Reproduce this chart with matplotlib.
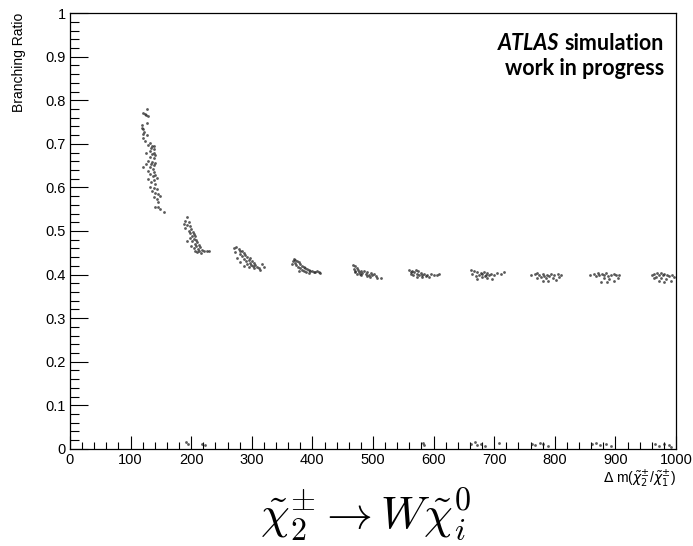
import matplotlib
matplotlib.use("Agg")
import matplotlib.pyplot as plt
from matplotlib.ticker import MultipleLocator, FuncFormatter

plt.rcParams['font.family'] = 'sans-serif'
plt.rcParams['font.sans-serif'] = ['Liberation Sans', 'DejaVu Sans']
plt.rcParams['mathtext.fontset'] = 'cm'

# Delta m (GeV) and branching ratio, one cluster per mass point
dm_120 = [127.8, 121.2, 124.0, 125.6, 128.4, 126.8, 119.6, 118.5, 121.2, 122.3, 120.1, 127.8,
          121.2, 124.0, 132.3, 129.5, 135.0, 137.8, 133.4, 137.8, 131.2, 137.8, 125.6, 135.0,
          140.5, 132.3, 137.8, 129.5, 135.0, 140.5, 125.6, 133.4, 137.8, 121.2, 131.2, 136.7,
          129.5, 138.9, 132.3, 140.5, 136.7, 129.5, 138.9, 143.3, 133.4, 140.5, 131.2, 137.8,
          143.3, 135.0, 140.5, 146.0, 147.7, 138.9, 143.3, 146.0, 140.5, 144.4, 148.8, 154.3]
br_120 = [0.780, 0.771, 0.768, 0.765, 0.763, 0.748, 0.744, 0.736, 0.734, 0.728, 0.722, 0.720,
          0.713, 0.707, 0.702, 0.697, 0.696, 0.694, 0.690, 0.688, 0.684, 0.680, 0.679, 0.677,
          0.674, 0.669, 0.667, 0.661, 0.659, 0.657, 0.654, 0.654, 0.651, 0.646, 0.646, 0.642,
          0.638, 0.636, 0.631, 0.628, 0.625, 0.619, 0.618, 0.621, 0.612, 0.608, 0.602, 0.598,
          0.596, 0.592, 0.587, 0.585, 0.581, 0.577, 0.573, 0.566, 0.556, 0.554, 0.550, 0.544]

dm_200 = [192.9, 189.0, 195.6, 187.4, 192.9, 198.4, 190.1, 200.0, 195.6, 202.3, 198.4, 203.9,
          201.2, 206.7, 198.4, 203.9, 207.8, 192.9, 201.2, 209.4, 205.6, 212.2, 200.0, 207.8,
          214.9, 203.9, 211.1, 217.7, 206.7, 213.3, 220.4, 209.4, 216.6, 225.9, 228.7]
br_200 = [0.531, 0.524, 0.521, 0.516, 0.514, 0.511, 0.506, 0.505, 0.501, 0.498, 0.495, 0.493,
          0.489, 0.488, 0.483, 0.482, 0.480, 0.478, 0.476, 0.474, 0.470, 0.468, 0.466, 0.465,
          0.463, 0.460, 0.459, 0.457, 0.455, 0.453, 0.455, 0.451, 0.450, 0.453, 0.455]

dm_300 = [271.1, 274.4, 278.3, 272.8, 281.0, 283.8, 279.9, 286.5, 289.3, 283.8, 292.1, 275.5,
          287.6, 294.8, 297.6, 291.0, 300.3, 281.0, 296.5, 303.1, 292.1, 298.7, 305.8, 286.5,
          302.0, 308.6, 294.8, 304.2, 311.3, 316.8, 319.6, 313.0]
br_300 = [0.460, 0.463, 0.459, 0.451, 0.453, 0.455, 0.447, 0.450, 0.445, 0.442, 0.440, 0.437,
          0.436, 0.434, 0.437, 0.432, 0.430, 0.428, 0.427, 0.427, 0.424, 0.422, 0.422, 0.420,
          0.419, 0.417, 0.417, 0.414, 0.414, 0.424, 0.417, 0.411]

dm_400 = [369.2, 371.9, 367.5, 374.7, 370.8, 377.4, 380.2, 373.0, 383.0, 376.3, 385.7, 380.2,
          388.5, 391.2, 383.0, 394.0, 396.7, 377.4, 399.5, 389.6, 402.2, 405.0, 410.5, 413.3,
          395.1, 407.7, 385.7, 366.4]
br_400 = [0.436, 0.433, 0.430, 0.430, 0.426, 0.428, 0.424, 0.423, 0.420, 0.418, 0.418, 0.415,
          0.415, 0.413, 0.411, 0.411, 0.409, 0.409, 0.407, 0.405, 0.405, 0.405, 0.405, 0.403,
          0.403, 0.407, 0.407, 0.424]

dm_500 = [467.3, 469.5, 468.4, 472.8, 471.1, 475.0, 476.6, 469.5, 479.4, 482.1, 478.3, 484.9,
          487.7, 490.4, 493.2, 495.9, 489.3, 498.7, 501.4, 494.8, 504.2, 507.0, 512.5, 473.9, 480.5]
br_500 = [0.422, 0.419, 0.413, 0.414, 0.409, 0.411, 0.405, 0.405, 0.408, 0.404, 0.401, 0.407,
          0.401, 0.405, 0.399, 0.404, 0.396, 0.398, 0.401, 0.394, 0.396, 0.391, 0.391, 0.401, 0.398]

dm_600 = [559.3, 564.8, 570.3, 562.0, 567.6, 574.2, 572.0, 578.6, 566.4, 575.8, 581.3, 584.1,
          586.8, 589.6, 595.1, 600.6, 606.1, 581.3, 573.1, 592.3, 608.9, 563.1]
br_600 = [0.411, 0.409, 0.411, 0.405, 0.405, 0.407, 0.401, 0.404, 0.399, 0.398, 0.399, 0.401,
          0.396, 0.399, 0.401, 0.399, 0.398, 0.394, 0.394, 0.394, 0.401, 0.401]

dm_700 = [661.2, 666.7, 664.0, 672.2, 677.8, 675.0, 680.5, 683.3, 686.0, 688.8, 691.5, 694.3,
          699.8, 705.3, 710.8, 716.3, 669.5, 680.5, 688.8, 697.0, 672.2, 684.4]
br_700 = [0.411, 0.409, 0.401, 0.405, 0.404, 0.399, 0.401, 0.405, 0.399, 0.404, 0.398, 0.401,
          0.399, 0.404, 0.401, 0.405, 0.396, 0.394, 0.391, 0.390, 0.390, 0.396]

dm_800 = [760.4, 767.0, 771.4, 774.2, 779.7, 782.4, 776.9, 786.9, 790.7, 785.2, 793.5, 799.0,
          804.5, 810.0, 796.2, 788.0, 781.3, 801.7, 807.2, 771.4]
br_800 = [0.399, 0.401, 0.404, 0.398, 0.401, 0.396, 0.394, 0.399, 0.396, 0.391, 0.401, 0.399,
          0.401, 0.398, 0.391, 0.386, 0.386, 0.388, 0.394, 0.391]

dm_900 = [858.5, 865.1, 870.6, 873.4, 877.2, 880.5, 884.4, 887.1, 892.6, 897.0, 900.9, 906.4,
          881.6, 889.9, 898.2, 876.1, 886.0, 903.7, 867.8]
br_900 = [0.399, 0.401, 0.404, 0.398, 0.401, 0.399, 0.403, 0.396, 0.399, 0.401, 0.398, 0.399,
          0.391, 0.390, 0.386, 0.384, 0.384, 0.391, 0.396]

dm_1000 = [959.9, 964.3, 968.7, 972.5, 975.3, 978.0, 980.8, 985.2, 989.1, 992.9, 997.3, 967.0,
           975.3, 983.5, 991.8, 972.5, 980.8, 963.2]
br_1000 = [0.398, 0.401, 0.404, 0.399, 0.403, 0.398, 0.401, 0.399, 0.396, 0.398, 0.394, 0.394,
           0.391, 0.390, 0.386, 0.386, 0.384, 0.391]

# points sitting at ~zero branching ratio
dm_zero = [192.0, 195.0, 218.0, 223.0, 582.0, 583.5, 662.0, 668.0, 672.0, 678.0, 685.0, 708.0,
           762.0, 768.0, 775.0, 781.0, 788.0, 862.0, 868.0, 875.0, 884.0, 893.0, 965.0, 972.0,
           980.0, 988.0, 992.0]
br_zero = [0.015, 0.010, 0.012, 0.008, 0.014, 0.008, 0.010, 0.016, 0.008, 0.012, 0.006, 0.014,
           0.012, 0.008, 0.014, 0.010, 0.006, 0.010, 0.014, 0.008, 0.012, 0.006, 0.010, 0.006,
           0.012, 0.008, 0.004]

clusters = [(dm_120, br_120), (dm_200, br_200), (dm_300, br_300), (dm_400, br_400),
            (dm_500, br_500), (dm_600, br_600), (dm_700, br_700), (dm_800, br_800),
            (dm_900, br_900), (dm_1000, br_1000), (dm_zero, br_zero)]

fig = plt.figure(figsize=(6.93, 5.46), dpi=100)
ax = fig.add_axes([0.101, 0.178, 0.8745, 0.798])

for dm, br in clusters:
    ax.plot(dm, br, 'o', ms=2.0, color='#222222', alpha=0.75, mec='none')

ax.set_xlim(0, 1000)
ax.set_ylim(0, 1)

ax.xaxis.set_major_locator(MultipleLocator(100))
ax.xaxis.set_minor_locator(MultipleLocator(20))
ax.yaxis.set_major_locator(MultipleLocator(0.1))
ax.yaxis.set_minor_locator(MultipleLocator(0.02))
ax.yaxis.set_major_formatter(FuncFormatter(lambda v, p: '%g' % round(v, 2)))

ax.tick_params(axis='x', which='major', direction='in', length=9.4, width=0.8, labelsize=10.5, pad=3)
ax.tick_params(axis='x', which='minor', direction='in', length=4.7, width=0.8)
ax.tick_params(axis='y', which='major', direction='in', length=13, width=0.8, labelsize=10.5, pad=3)
ax.tick_params(axis='y', which='minor', direction='in', length=6.5, width=0.8)
for s in ax.spines.values():
    s.set_linewidth(0.9)

ax.set_ylabel('Branching Ratio', fontsize=10, loc='top', labelpad=14)
ax.set_xlabel(r'$\Delta$ m($\tilde{\chi}^{\pm}_{2}$/$\tilde{\chi}^{\pm}_{1}$)',
              fontsize=10, loc='right', labelpad=1, math_fontfamily='dejavusans')

# ATLAS label: italic bold "ATLAS", bold "simulation"
t1 = ax.text(0.98, 0.931, 'simulation', transform=ax.transAxes,
             ha='right', va='center', fontsize=15.5, fontweight='bold', family='Lato')
ax.annotate('ATLAS ', xy=(0, 0.5), xycoords=t1, ha='right', va='center',
            fontsize=15.5, fontweight='bold', fontstyle='italic', family='Lato')
ax.text(0.98, 0.872, 'work in progress', transform=ax.transAxes,
        ha='right', va='center', fontsize=15.5, fontweight='bold', family='Lato')

fig.text(0.527, 0.057, r'$\tilde{\chi}_2^{\pm} \rightarrow W\tilde{\chi}_i^0$',
         ha='center', va='center', fontsize=33)

fig.savefig('out.png', dpi=100)
